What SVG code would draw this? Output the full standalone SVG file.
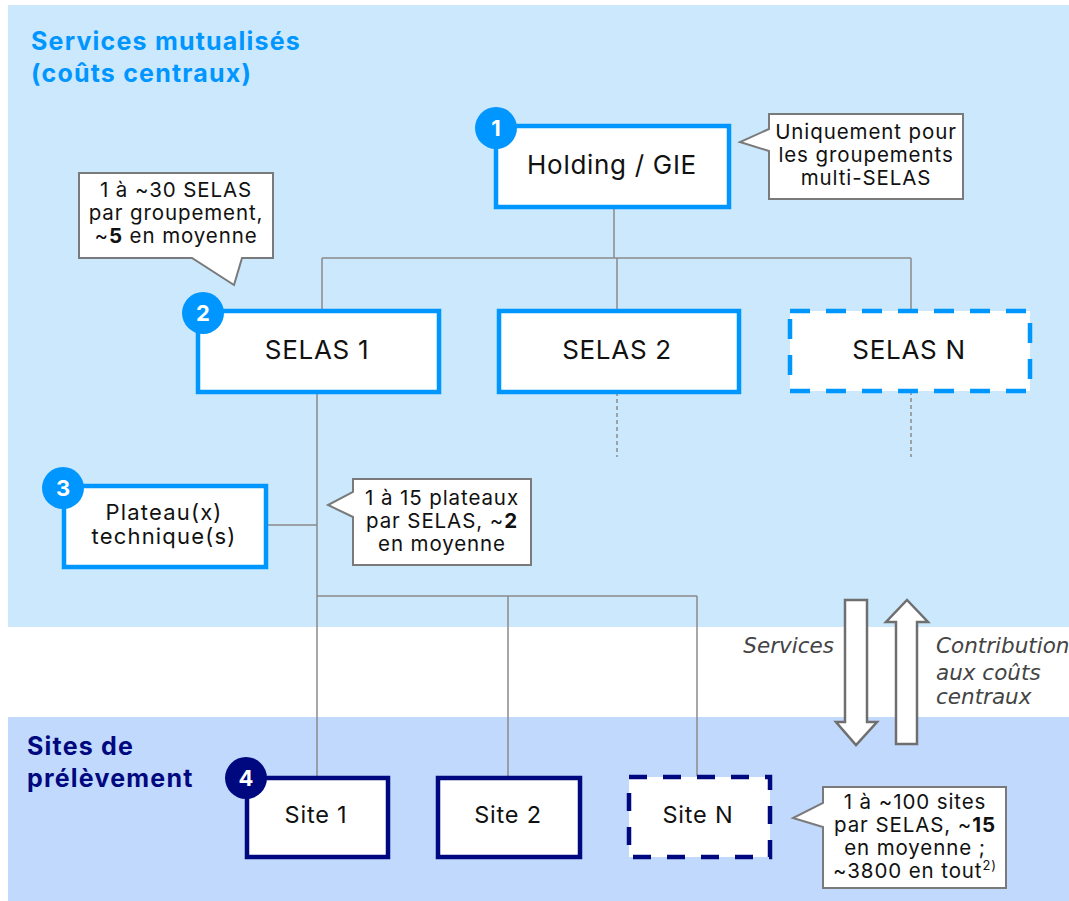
<svg xmlns="http://www.w3.org/2000/svg" width="1069" height="901" viewBox="0 0 1069 901">
<style>
.t{font-family:Inter,"Open Sans","Liberation Sans",sans-serif;fill:#111;}
.box{fill:#fff;stroke:#0096ff;stroke-width:4.5;}
.boxd{fill:#fff;stroke:#0096ff;stroke-width:4.5;stroke-dasharray:20 16;}
.site{fill:#fff;stroke:#00087f;stroke-width:4.5;}
.sited{fill:#fff;stroke:#00087f;stroke-width:4.5;stroke-dasharray:18 16;}
.lbl{font-size:26px;text-anchor:middle;letter-spacing:0.7px;}
.sm{font-size:23.5px;text-anchor:middle;letter-spacing:0.8px;}
.pl{font-size:22px;text-anchor:middle;letter-spacing:1.2px;}
.call{fill:#fff;stroke:#7a7a7a;stroke-width:2;}
.ct{font-size:20.5px;text-anchor:middle;letter-spacing:0.9px;}
.badge{fill:#0096ff;}
.bn{font-family:Inter,"Open Sans","Liberation Sans",sans-serif;font-weight:bold;font-size:22px;fill:#fff;text-anchor:middle;}
.con{stroke:#8a8a8a;stroke-width:1.5;fill:none;}
.dot{stroke:#8a8a8a;stroke-width:1.5;fill:none;stroke-dasharray:4 3;}
.arr{fill:#fff;stroke:#6f6f6f;stroke-width:2.5;stroke-linejoin:miter;}
.it{font-family:"DejaVu Sans",sans-serif;font-style:italic;font-size:21.5px;fill:#444;}
.h{font-family:Inter,"Open Sans","Liberation Sans",sans-serif;font-weight:bold;font-size:25px;letter-spacing:1.2px;}
</style>
<rect x="0" y="0" width="1069" height="901" fill="#fff"/>
<rect x="8" y="5" width="1061" height="622" fill="#cce8fd"/>
<rect x="8" y="717" width="1061" height="184" fill="#c1d9fc"/>
<g id="titles">
<text class="h" x="31" y="50" fill="#0096ff">Services mutualisés</text>
<text class="h" x="31" y="82" fill="#0096ff">(coûts centraux)</text>
<text class="h" x="27" y="755" fill="#00087f">Sites de</text>
<text class="h" x="27" y="787" fill="#00087f">prélèvement</text>
</g>
<g id="connectors">
<path class="con" d="M614 207 V258 M322 258 H911 M322 258 V309 M617 258 V309 M911 258 V310"/>
<path class="dot" d="M617 392 V457 M911 391 V457"/>
<path class="con" d="M317 392 V776 M266 525 H317 M317 596 H697 M508 596 V776 M697 596 V776"/>
</g>
<g id="arrows">
<path class="arr" d="M845 600 H867 V722 H877 L856 745 L836 722 H845 Z"/>
<path class="arr" d="M896 744 V622 H886 L907 600 L928 622 H917 V744 Z"/>
<text class="it" x="834" y="653" text-anchor="end">Services</text>
<text class="it" x="936" y="653">Contribution</text>
<text class="it" x="936" y="680">aux coûts</text>
<text class="it" x="936" y="704">centraux</text>
</g>
<g id="holding">
<rect class="box" x="496" y="126" width="233" height="81"/>
<text class="t lbl" x="612" y="174">Holding / GIE</text>
<circle class="badge" cx="496" cy="128" r="21"/>
<text class="bn" x="496" y="136">1</text>
</g>
<g id="callout-holding">
<path class="call" d="M769 114 H963 V199 H769 V151 L740 142 L769 129 Z"/>
<text class="t ct" x="866" y="139">Uniquement pour</text>
<text class="t ct" x="866" y="162">les groupements</text>
<text class="t ct" x="866" y="185">multi-SELAS</text>
</g>
<g id="callout-selas">
<path class="call" d="M79 173 H273 V258 H242 L234 285 L192 258 H79 Z"/>
<text class="t ct" x="176" y="197">1 à ~30 SELAS</text>
<text class="t ct" x="176" y="220">par groupement,</text>
<text class="t ct" x="176" y="243">~<tspan font-weight="bold">5</tspan> en moyenne</text>
</g>
<g id="selas1">
<rect class="box" x="198" y="311" width="241" height="81"/>
<text class="t lbl" x="317" y="359">SELAS 1</text>
<circle class="badge" cx="203" cy="313" r="21"/>
<text class="bn" x="203" y="321">2</text>
</g>
<g id="selas2">
<rect class="box" x="499" y="311" width="240" height="81"/>
<text class="t lbl" x="617" y="359">SELAS 2</text>
</g>
<g id="selasN">
<rect class="boxd" x="790" y="311" width="240" height="80"/>
<text class="t lbl" x="909" y="359">SELAS N</text>
</g>
<g id="plateau">
<rect class="box" x="64" y="486" width="202" height="81"/>
<text class="t pl" x="164" y="520">Plateau(x)</text>
<text class="t pl" x="164" y="544">technique(s)</text>
<circle class="badge" cx="63" cy="488" r="21"/>
<text class="bn" x="63" y="496">3</text>
</g>
<g id="callout-plateau">
<path class="call" d="M353 479 H531 V565 H353 V517 L328 505 L353 492 Z"/>
<text class="t ct" x="442" y="505">1 à 15 plateaux</text>
<text class="t ct" x="442" y="528">par SELAS, ~<tspan font-weight="bold">2</tspan></text>
<text class="t ct" x="442" y="551">en moyenne</text>
</g>
<g id="site1">
<rect class="site" x="247" y="778" width="141" height="79"/>
<text class="t sm" x="316" y="823">Site 1</text>
<circle cx="246" cy="778" r="21" fill="#00087f"/>
<text class="bn" x="246" y="786">4</text>
</g>
<g id="site2">
<rect class="site" x="438" y="778" width="142" height="79"/>
<text class="t sm" x="508" y="823">Site 2</text>
</g>
<g id="siteN">
<rect class="sited" x="629" y="777" width="141" height="80"/>
<text class="t sm" x="698" y="823">Site N</text>
</g>
<g id="callout-sites">
<path class="call" d="M823 787 H1006 V888 H823 V827 L793 818 L823 803 Z"/>
<text class="t ct" x="915" y="809">1 à ~100 sites</text>
<text class="t ct" x="915" y="832">par SELAS, ~<tspan font-weight="bold">15</tspan></text>
<text class="t ct" x="915" y="855">en moyenne ;</text>
<text class="t ct" x="915" y="878">~3800 en tout<tspan font-size="13" dy="-8">2)</tspan></text>
</g>
</svg>
